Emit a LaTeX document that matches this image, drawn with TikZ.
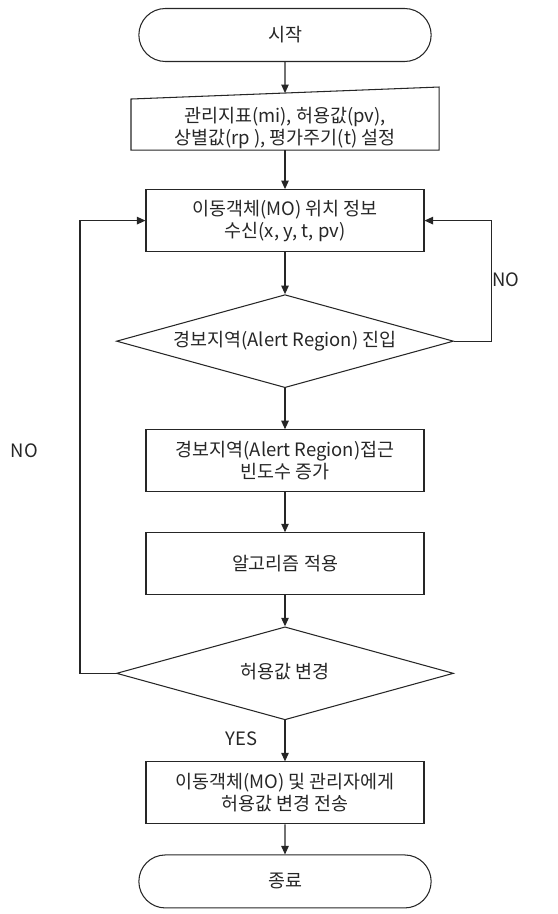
\documentclass[tikz,border=0pt]{standalone}
\usepackage{fontspec}
\setmainfont{Noto Sans CJK KR}
\usepackage{tikz}
\usetikzlibrary{shapes.geometric, shapes.misc, arrows.meta, positioning, calc}

\begin{document}
\begin{tikzpicture}[
    node distance=0.8cm,
    every node/.style={font=\fontsize{10.5}{12.5}\selectfont},
    term/.style={rounded rectangle, draw, minimum width=6.08cm, minimum height=1.06cm},
    proc/.style={rectangle, draw, minimum width=5.56cm, minimum height=1.24cm, align=center},
    inbox/.style={rectangle, inner sep=0pt, minimum width=6.14cm, minimum height=0.88cm, align=center},
    decide/.style={diamond, draw, aspect=3.62, inner sep=0pt, text height=0.28cm, text depth=0.08cm, minimum width=6.74cm, minimum height=1.86cm, align=center},
    lbl/.style={inner sep=0pt},
    arrow/.style={-{Triangle[length=1.7mm, width=1.5mm]}},
    line width=0.6pt, color=black!85
]
    \useasboundingbox (0,0) rectangle (11.14,-18.28);

    % Main flow
    \node[term] (start) at (5.70,-0.70) {시작};
    \node[inbox, below=0.86cm of start] (input) {관리지표(mi), 허용값(pv),\\상별값(rp ), 평가주기(t) 설정};
    \node[proc, below=0.78cm of input] (recv) {이동객체(MO) 위치 정보\\수신(x, y, t, pv)};
    \node[decide, below=0.84cm of recv] (alert) {경보지역(Alert Region) 진입};
    \node[proc, below=0.82cm of alert] (count) {경보지역(Alert Region)접근\\빈도수 증가};
    \node[proc, below=0.8cm of count] (algo) {알고리즘 적용};
    \node[decide, below=0.62cm of algo] (change) {허용값 변경};
    \node[proc, below=0.82cm of change] (send) {이동객체(MO) 및 관리자에게\\허용값 변경 전송};
    \node[term, below=0.6cm of send] (stop) {종료};

    % Manual input outline (slanted top)
    \coordinate (inNW) at ([yshift=0.12cm]input.north west);
    \coordinate (inNE) at ([yshift=0.36cm]input.north east);
    \draw (input.south west) -- (input.south east) -- (inNE) -- (inNW) -- cycle;
    \coordinate (inTop) at ($(inNW)!0.5!(inNE)$);

    \draw[arrow] (start) -- (inTop);
    \draw[arrow] (input) -- (recv);
    \draw[arrow] (recv) -- (alert);
    \draw[arrow] (alert) -- (count);
    \draw[arrow] (count) -- (algo);
    \draw[arrow] (algo) -- (change);
    \draw[arrow] (change) -- (send);
    \draw[arrow] (send) -- (stop);

    % Loops back
    \draw[arrow] (alert.east) -- ++(0.74,0) |- (recv.east);
    \draw[arrow] (change.west) -- ++(-0.72,0) |- (recv.west);

    \node[lbl, above right=1.07cm and 0.76cm of alert.east] (noA) {NO};
    \node[lbl, left=2.14cm of count, yshift=0.19cm] (noB) {NO};
    \node[lbl, below left=0.22cm and 0.54cm of change.south] (yes) {YES};

\end{tikzpicture}
\end{document}
